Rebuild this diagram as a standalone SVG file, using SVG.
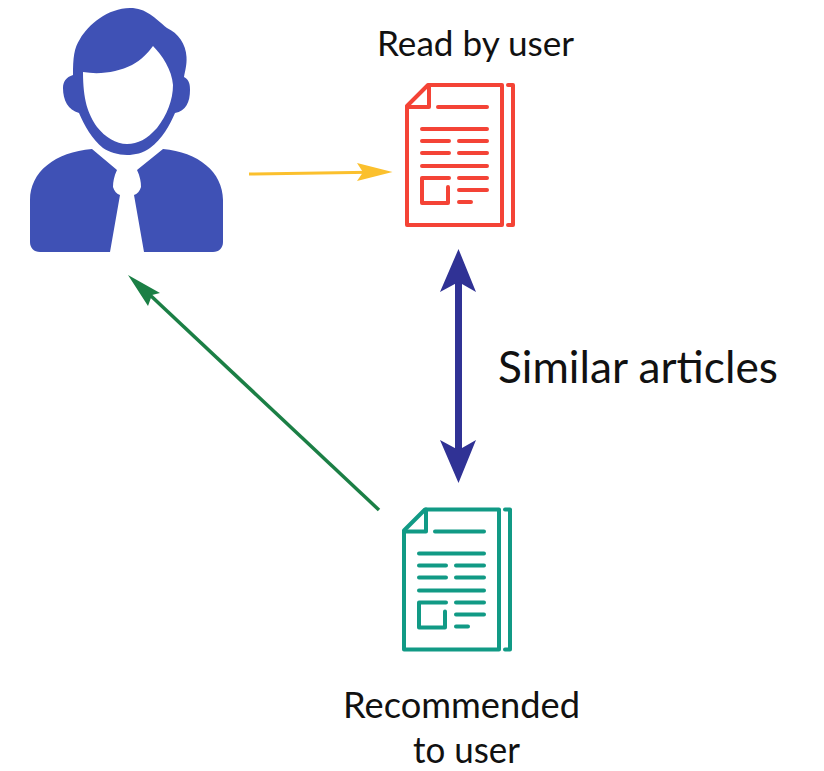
<svg xmlns="http://www.w3.org/2000/svg" width="824" height="771" viewBox="0 0 824 771">
<style>
.t{font-family:"Lato","Open Sans","Liberation Sans",sans-serif;fill:#111;text-anchor:middle}
.doc{fill:none;stroke:currentColor;stroke-width:4;stroke-linejoin:round;stroke-linecap:round}
</style>
<defs>
<g id="doc" class="doc">
<path d="M407 106L428 85H502V225H407Z"/>
<path d="M429 85V107H407"/>
<path d="M508 85H513V225H508"/>
<path d="M438 107H487M422 129H487M422 141H449M459 141H487M422 153H449M459 153H487M422 166H487M449 178H422V203H448V187M459 178H487M459 190H487M459 202H471"/>
</g>
</defs>
<rect width="824" height="771" fill="#fff"/>
<g id="user">
<path fill="#3f51b5" d="M73 75C73 58 74 48 80 39C88 25 108 8 130 8C146 8 155 18 167 28C178 33 186 44 186.500 57C187 65 185 71 184 77C190 80 190 86 190 90C190 102 186 111 175 113C170 125 162 139 150 148C143 153 135 155 127 155C118 155 109 152 103 148C92 139 84 125 79 113C68 110 63 100 63 88C63 82 66 77 73 75Z"/>
<path fill="#fff" d="M83 72C100 75 118 72 132 65C141 60 148 53 153 46C162 55 172 70 173 85C173 100 167 115 157 128C147 139 138 144 127 144C116 144 105 137 97 127C88 114 83 100 83 72Z"/>
<path fill="#3f51b5" d="M92 149L117 170C114 176 113 182 113 187C114 191 117 194 120 195L110 252H40C34 252 30 248 30 242V200C30 172 55 152 92 149Z"/>
<path fill="#3f51b5" d="M163 149L137 170C140 176 141 182 141 187C140 191 137 194 134 195L144 252H213C219 252 223 248 223 242V200C223 172 198 152 163 149Z"/>
</g>
<g id="read-doc" color="#f44336"><use href="#doc"/></g>
<g id="recommended-doc" color="#119a85"><use href="#doc" transform="translate(-3 424.500)"/></g>
<g id="connectors">
<path d="M249 174L370 172.200" stroke="#fbc02d" stroke-width="3" fill="none"/>
<path d="M392.500 172L357 163L363 172.200L357 181Z" fill="#fbc02d"/>
<path d="M379 510L150 295" stroke="#1b7f45" stroke-width="3.500" fill="none"/>
<path d="M128 275L160 293L152 295L148 306Z" fill="#1b7f45"/>
<path d="M458.500 270V460" stroke="#303295" stroke-width="7" fill="none"/>
<path d="M458.500 249L476 292L458.500 282L440 292Z" fill="#303295"/>
<path d="M458.500 483L476 440L458.500 450L440 440Z" fill="#303295"/>
</g>
<text class="t" x="475.500" y="56" font-size="35" textLength="197" lengthAdjust="spacingAndGlyphs">Read by user</text>
<text class="t" x="638" y="382.500" font-size="45" textLength="280" lengthAdjust="spacingAndGlyphs">Similar articles</text>
<text class="t" x="461.500" y="718" font-size="36" textLength="237" lengthAdjust="spacingAndGlyphs">Recommended</text>
<text class="t" x="466.500" y="763" font-size="36" textLength="107" lengthAdjust="spacingAndGlyphs">to user</text>
</svg>
